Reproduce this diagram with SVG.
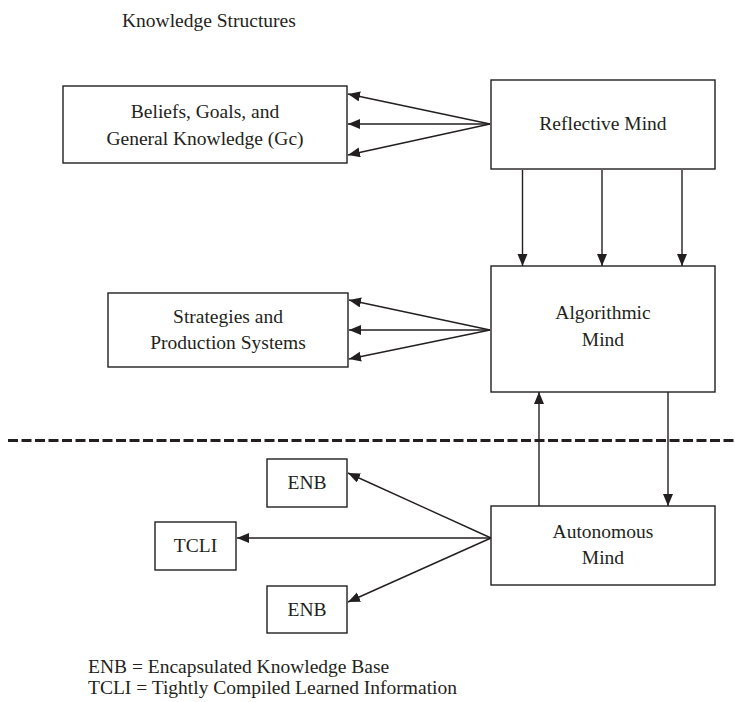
<svg xmlns="http://www.w3.org/2000/svg" width="735" height="702" viewBox="0 0 735 702" font-family="'Liberation Serif', 'DejaVu Serif', serif">
<style>
.box{fill:#fff;stroke:#231f20;stroke-width:1.4}
text{font-family:'Liberation Serif','DejaVu Serif',serif;font-size:19.5px;fill:#231f20}
.c{text-anchor:middle}
.ln{stroke:#231f20;stroke-width:1.4;fill:none;marker-end:url(#ah)}
</style>
<defs>
<marker id="ah" markerUnits="userSpaceOnUse" markerWidth="13" markerHeight="11" refX="12" refY="5" orient="auto">
<path d="M0,0 L12,5 L0,10 z" fill="#231f20"/>
</marker>
</defs>
<text x="122" y="27">Knowledge Structures</text>
<g id="beliefs"><rect class="box" x="63" y="86" width="284" height="77"/><text class="c" x="205" y="118">Beliefs, Goals, and</text><text class="c" x="205" y="145">General Knowledge (Gc)</text></g>
<g id="reflective"><rect class="box" x="491" y="80" width="224" height="89"/><text class="c" x="603" y="130">Reflective Mind</text></g>
<g id="strategies"><rect class="box" x="108" y="293" width="240" height="74"/><text class="c" x="228" y="323">Strategies and</text><text class="c" x="228" y="349">Production Systems</text></g>
<g id="algorithmic"><rect class="box" x="491" y="266" width="224" height="126"/><text class="c" x="603" y="319">Algorithmic</text><text class="c" x="603" y="346">Mind</text></g>
<g id="autonomous"><rect class="box" x="491" y="506" width="224" height="79"/><text class="c" x="603" y="538">Autonomous</text><text class="c" x="603" y="564">Mind</text></g>
<g id="enb1"><rect class="box" x="267" y="459" width="80" height="48"/><text class="c" x="307" y="489">ENB</text></g>
<g id="tcli"><rect class="box" x="155" y="522" width="81" height="48"/><text class="c" x="195.5" y="552">TCLI</text></g>
<g id="enb2"><rect class="box" x="267" y="586" width="80" height="47"/><text class="c" x="307" y="616">ENB</text></g>
<line x1="8" y1="440.5" x2="735" y2="440.5" stroke="#231f20" stroke-width="3" stroke-dasharray="10,3.5"/>
<g id="connectors">
<line class="ln" x1="490" y1="124" x2="348" y2="94"/>
<line class="ln" x1="490" y1="124" x2="348" y2="124"/>
<line class="ln" x1="490" y1="124" x2="348" y2="155"/>
<line class="ln" x1="522.5" y1="170" x2="522.5" y2="266"/>
<line class="ln" x1="602" y1="170" x2="602" y2="266"/>
<line class="ln" x1="682" y1="170" x2="682" y2="266"/>
<line class="ln" x1="490" y1="330" x2="349" y2="300"/>
<line class="ln" x1="490" y1="330" x2="349" y2="330"/>
<line class="ln" x1="490" y1="330" x2="349" y2="359"/>
<line class="ln" x1="539" y1="506" x2="539" y2="392"/>
<line class="ln" x1="668" y1="392" x2="668" y2="506"/>
<line class="ln" x1="491" y1="538" x2="348" y2="473"/>
<line class="ln" x1="491" y1="538" x2="237" y2="538"/>
<line class="ln" x1="491" y1="538" x2="348" y2="602"/>
</g>
<text x="88" y="673">ENB = Encapsulated Knowledge Base</text>
<text x="88" y="694">TCLI = Tightly Compiled Learned Information</text>
</svg>
